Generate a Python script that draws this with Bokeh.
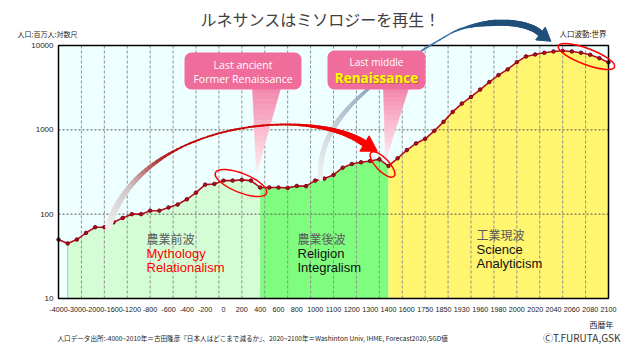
import numpy as np
from bokeh.plotting import figure
from bokeh.models import FixedTicker, Label, PrintfTickFormatter, Range1d
from bokeh.embed import file_html
from bokeh.resources import INLINE

# ---------------- data ----------------
year_labels = ["-4000", "-3000", "-2000", "-1600", "-1200", "-800", "-600", "-400",
               "-200", "0", "200", "400", "600", "800", "1000", "1100", "1200",
               "1300", "1400", "1600", "1750", "1850", "1930", "1960", "1980",
               "2000", "2020", "2040", "2060", "2080", "2100"]
# world population (millions), one value per category point; a year label every 2nd point
population = [50, 45, 50, 60, 70, 70, 80, 90, 100, 100,
              110, 110, 120, 130, 150, 180, 224, 228, 250, 250,
              255, 250, 207, 207, 207, 205, 216, 215, 250, 264,
              292, 356, 394, 412, 427, 447, 373, 460, 575, 690,
              783, 973, 1243, 1632, 2050, 2455, 3000, 3685, 4460, 5210,
              6350, 7420, 7830, 8200, 8500, 8650, 8500, 8200, 7760, 7080, 6300]
y_ticks = [10, 100, 1000, 10000]
# phases as (first point, last point)
phase_ranges = [(1, 22), (22, 36), (36, 60)]
phase_colors = ["#D5FDD5", "#7FFD7F", "#FFF56F"]
phase_names = ["農業前波", "農業後波", "工業現波"]
phase_line1 = ["Mythology", "Religion", "Science"]
phase_line2 = ["Relationalism", "Integralism", "Analyticism"]
phase_text_colors = ["#FF0000", "#111111", "#111111"]

# ---------------- pixel helpers (for decorations) ----------------
W, H = 624, 344
N = len(population) - 1
PX_L, PX_R, PX_T, PX_B = 58.0, 608.0, 45.0, 298.0
SX = (PX_R - PX_L) / N
SY = (PX_B - PX_T) / 3.0


def ix(px):
    return (np.asarray(px, float) - PX_L) / SX


def ly(py):
    return 10 ** (4 - (np.asarray(py, float) - PX_T) / SY)


def hex2rgb(h):
    h = h.lstrip("#")
    return [int(h[i:i + 2], 16) for i in (0, 2, 4)]


def interp_color(stops, t):
    ts = [s[0] for s in stops]
    rgbs = np.array([hex2rgb(s[1]) for s in stops], float)
    c = [int(round(np.interp(t, ts, rgbs[:, k]))) for k in range(3)]
    return "#%02x%02x%02x" % tuple(c)


p = figure(width=W, height=H, x_range=Range1d(float(ix(0)), float(ix(W))),
           y_range=Range1d(float(ly(H)), float(ly(0))), y_axis_type="log",
           output_backend="svg", toolbar_location=None, min_border=0,
           min_border_left=0, min_border_right=0, min_border_top=0,
           min_border_bottom=0)
p.outline_line_color = None
p.background_fill_color = "white"
p.border_fill_color = "white"
p.xgrid.visible = False
p.ygrid.visible = False

idx = list(range(len(population)))

# plot-area background
p.quad(left=0, right=N, bottom=y_ticks[0], top=y_ticks[-1], fill_color="#EEFFFF",
       line_color=None, level="image")
# phase areas
for (a, b), col in zip(phase_ranges, phase_colors):
    p.varea(x=idx[a:b + 1], y1=y_ticks[0], y2=population[a:b + 1], fill_color=col,
            level="image")

# grid lines
vx = [2.5 * k for k in range(1, 24)]
p.segment(x0=vx, y0=y_ticks[0], x1=vx, y1=y_ticks[-1], line_color="#8f8f8f",
          line_dash="3 2", line_width=1, level="underlay")
hy = y_ticks[1:-1]
p.segment(x0=0, y0=hy, x1=N, y1=hy, line_color="#555555", line_dash="2 2",
          line_width=1, level="underlay")
p.segment(x0=phase_ranges[0][0], y0=y_ticks[0], x1=phase_ranges[0][0],
          y1=population[phase_ranges[0][0]], line_color="#bdbdbd", line_width=1)

# data line
p.line(idx, population, line_color="#B0101E", line_width=1.6)
p.scatter(idx, population, size=3.5, marker="circle", fill_color="#B0101E",
          line_color="#7a0010")

# plot border
p.quad(left=0, right=N, bottom=y_ticks[0], top=y_ticks[-1], fill_color=None,
       line_color="black", line_width=1.5)

# axes (pinned to the plot-area edges)
p.xaxis.ticker = FixedTicker(ticks=list(range(0, N + 1, 2)))
p.xaxis.major_label_overrides = {i * 2: lab for i, lab in enumerate(year_labels)}
p.xaxis.fixed_location = y_ticks[0]
p.yaxis.ticker = FixedTicker(ticks=y_ticks)
p.yaxis.formatter = PrintfTickFormatter(format="%d")
p.yaxis.fixed_location = 0
for ax in (p.xaxis[0], p.yaxis[0]):
    ax.axis_line_color = None
    ax.major_tick_line_color = None
    ax.minor_tick_line_color = None
    ax.major_tick_out = 0
    ax.major_tick_in = 0
    ax.major_label_text_font = "Liberation Sans"
    ax.major_label_text_color = "#222222"
p.xaxis.major_label_text_font_size = "7.2px"
p.yaxis.major_label_text_font_size = "8px"
p.xaxis.major_label_standoff = 8
p.yaxis.major_label_standoff = 5


# ---------------- decorations ----------------
def bezier(pts, n):
    p0, p1, p2, p3 = [np.array(q, float) for q in pts]
    t = np.linspace(0, 1, n)[:, None]
    return ((1 - t) ** 3) * p0 + 3 * ((1 - t) ** 2) * t * p1 + 3 * (1 - t) * t ** 2 * p2 + t ** 3 * p3


def swoosh(pts, n, wstops, cstops):
    P = bezier(pts, n)
    tm = (np.arange(n - 1) + 0.5) / (n - 1)
    w = np.interp(tm, [s[0] for s in wstops], [s[1] for s in wstops])
    cols = [interp_color(cstops, t) for t in tm]
    p.segment(x0=ix(P[:-1, 0]).tolist(), y0=ly(P[:-1, 1]).tolist(),
              x1=ix(P[1:, 0]).tolist(), y1=ly(P[1:, 1]).tolist(),
              line_width=w.tolist(), line_color=cols, line_cap="round")
    return P


def head(P, length, half, color):
    end = P[-1]
    d = P[-1] - P[-4]
    d = d / np.hypot(*d)
    nrm = np.array([-d[1], d[0]])
    tip = end + d * length
    a = end + nrm * half
    b = end - nrm * half
    xs = [a[0], tip[0], b[0]]
    ys = [a[1], tip[1], b[1]]
    p.patch(ix(xs).tolist(), ly(ys).tolist(), fill_color=color, line_color=color)


def pointer(top_y, xa, xb, tip, cstops, n=16):
    xs, ys, cols = [], [], []
    for k in range(n):
        f0, f1 = k / n, (k + 1) / n
        y0 = top_y + (tip[1] - top_y) * f0
        y1 = top_y + (tip[1] - top_y) * f1
        la0, ra0 = xa + (tip[0] - xa) * f0, xb + (tip[0] - xb) * f0
        la1, ra1 = xa + (tip[0] - xa) * f1, xb + (tip[0] - xb) * f1
        xs.append(ix([la0, ra0, ra1, la1]).tolist())
        ys.append(ly([y0, y0, y1, y1]).tolist())
        cols.append(interp_color(cstops, (f0 + f1) / 2))
    p.patches(xs, ys, fill_color=cols, line_color=cols, line_width=0.6)


# blue arc (behind callouts)
blueA = swoosh([(320, 178), (317, 125), (360, 85), (450, 33)], 50,
               [(0, 5), (0.4, 5), (0.7, 2.4), (1, 1.3)],
               [(0, "#eef1f2"), (0.3, "#d3dade"), (0.55, "#a5b8ca"), (0.75, "#5a86b0"), (1, "#2f6ca6")])
blueB = swoosh([(450, 33), (470, 21.5), (522, 16), (540, 33)], 40,
               [(0, 1.3), (0.2, 2.2), (0.45, 6), (1, 6.5)],
               [(0, "#2f6ca6"), (0.4, "#1f4e79"), (1, "#1f4e79")])
head(blueB, 13, 8, "#1f4e79")

# callouts
pink = "#F06C9B"
pointer(88, 252, 280, (256, 173), [(0, "#F386AC"), (0.5, "#FBBCD0"), (1, "#FFEEF3")])
pointer(88, 383, 408, (385, 160), [(0, "#F386AC"), (0.5, "#FBBCD0"), (1, "#FFEEF3")])
p.quad(left=float(ix(184)), right=float(ix(301)), top=float(ly(52)), bottom=float(ly(89)),
       fill_color=pink, line_color=None, border_radius=7)
p.quad(left=float(ix(327)), right=float(ix(425)), top=float(ly(50)), bottom=float(ly(89)),
       fill_color=pink, line_color=None, border_radius=7)

# red arc
redP = swoosh([(108, 226), (140, 120), (310, 105), (364, 143)], 70,
              [(0, 7), (0.18, 5), (0.35, 1.7), (0.7, 2.0), (0.86, 4.5), (1, 7)],
              [(0, "#f2f2f2"), (0.15, "#cdc4c4"), (0.27, "#b23a3a"), (0.35, "#b80000"),
               (0.75, "#e00000"), (1, "#ff0000")])
head(redP, 15, 9, "#ff0000")

# ellipses
ell_px = [(240.5, 182.5, 55, 19, -0.38), (382, 164, 33, 13, -0.8), (586, 56, 60, 16, -0.36)]
for cx, cy, w, h, ang in ell_px:
    p.ellipse(x=float(ix(cx)), y=float(ly(cy)), width=w, height=h, angle=ang,
              width_units="screen", height_units="screen", fill_color=None,
              line_color="#FF0000", line_width=1.5)


def label(px, py, text, size, color, align="left", font="Noto Sans CJK JP",
          style="normal", alpha=1.0):
    p.add_layout(Label(x=float(ix(px)), y=float(ly(py)), text=text, text_align=align,
                       text_baseline="middle", text_font=font, text_font_size=size,
                       text_color=color, text_font_style=style, text_alpha=alpha))


# phase texts
phase_text_px = [(146, 238), (297, 238), (476, 234)]
for (tx, ty), n1, n2, n3, tc in zip(phase_text_px, phase_names, phase_line1, phase_line2,
                                    phase_text_colors):
    label(tx, ty, n1, "12px", "#5a5a5a")
    label(tx, ty + 15, n2, "13px", tc, font="Liberation Sans")
    label(tx, ty + 29, n3, "13px", tc, font="Liberation Sans")

# callout texts
label(242.5, 64, "Last ancient", "10.5px", "white", "center", "Open Sans")
label(242.5, 78, "Former Renaissance", "10.5px", "white", "center", "Open Sans")
label(376, 61, "Last middle", "10px", "white", "center", "Open Sans")
label(377, 78, "Renaissance", "13.5px", "#9a5a00", "center", "Open Sans", "bold", 0.6)
label(376, 77, "Renaissance", "13.5px", "#FFFF00", "center", "Open Sans", "bold")

# titles / notes
label(320, 18, "ルネサンスはミソロジーを再生！", "16px", "#404040", "center")
label(17, 33, "人口:百万人:対数尺", "7px", "#222222")
label(559, 33, "人口波動:世界", "7.5px", "#222222")
label(613, 324, "西暦年", "8px", "#222222", "right")
label(57, 337, "人口データ出所:-4000~2010年＝古田隆彦『日本人はどこまで減るか』、2020~2100年＝Washinton Univ, IHME, Forecast2020,SGD値",
      "6.6px", "#222222")
label(620, 337, "ⒸT.FURUTA,GSK", "10px", "#333333", "right")

open("out.html", "w").write(file_html(p, INLINE))
